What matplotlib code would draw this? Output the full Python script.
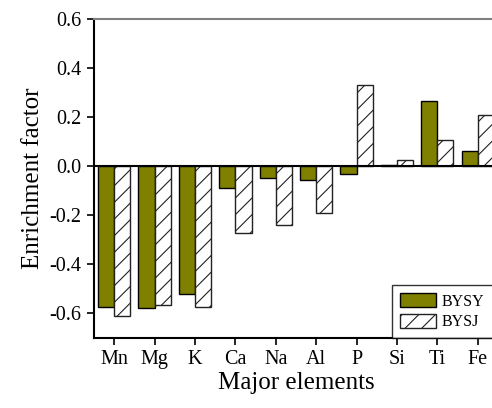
import numpy as np
import matplotlib.pyplot as plt

plt.rcParams['font.family'] = ['Liberation Serif', 'DejaVu Serif']
plt.rcParams['hatch.color'] = '#555555'
plt.rcParams['hatch.linewidth'] = 0.8

elements = ['Mn', 'Mg', 'K', 'Ca', 'Na', 'Al', 'P', 'Si', 'Ti', 'Fe']
bysy = [-0.573, -0.576, -0.521, -0.090, -0.050, -0.055, -0.032, 0.005, 0.265, 0.063]
bysj = [-0.612, -0.566, -0.573, -0.272, -0.239, -0.189, 0.332, 0.027, 0.107, 0.210]

x = np.arange(1, len(elements) + 1)
w = 0.4

fig = plt.figure(figsize=(4.92, 4.08), dpi=100)
# axes run a little past the right edge of the figure
ax = fig.add_axes([0.191, 0.1716, 0.821, 0.782])

ax.bar(x - w / 2, bysy, w, color='#808000', edgecolor='black', linewidth=1.0, label='BYSY')
ax.bar(x + w / 2, bysj, w, color='white', edgecolor='#222222', linewidth=1.0,
       hatch='//', label='BYSJ')
ax.axhline(0, color='black', linewidth=1.5, zorder=3)

ax.set_xlim(0.5, 10.5)
ax.set_ylim(-0.7, 0.6)
ax.set_xticks(x)
ax.set_xticklabels(elements)
ticks = np.arange(-0.6, 0.61, 0.2)
ax.set_yticks(ticks)
ax.set_yticklabels(['%.1f' % v for v in ticks])
ax.tick_params(direction='out', length=5, width=1.2, labelsize=14.5, pad=4)

ax.spines['left'].set_linewidth(1.5)
ax.spines['bottom'].set_linewidth(1.5)
ax.spines['top'].set_color('#808080')
ax.spines['top'].set_linewidth(1.5)
ax.spines['right'].set_visible(False)

ax.set_xlabel('Major elements', fontsize=18, labelpad=2)
ax.set_ylabel('Enrichment factor', fontsize=18, labelpad=4)

leg = ax.legend(loc='upper left', bbox_to_anchor=(0.737, 0.166), borderaxespad=0,
                fancybox=False, edgecolor='black', fontsize=11.5, handlelength=2.3,
                handleheight=1.0, handletextpad=0.35, labelspacing=0.25,
                borderpad=0.5)
leg.get_frame().set_linewidth(1.0)

fig.savefig('out.png', dpi=100)
